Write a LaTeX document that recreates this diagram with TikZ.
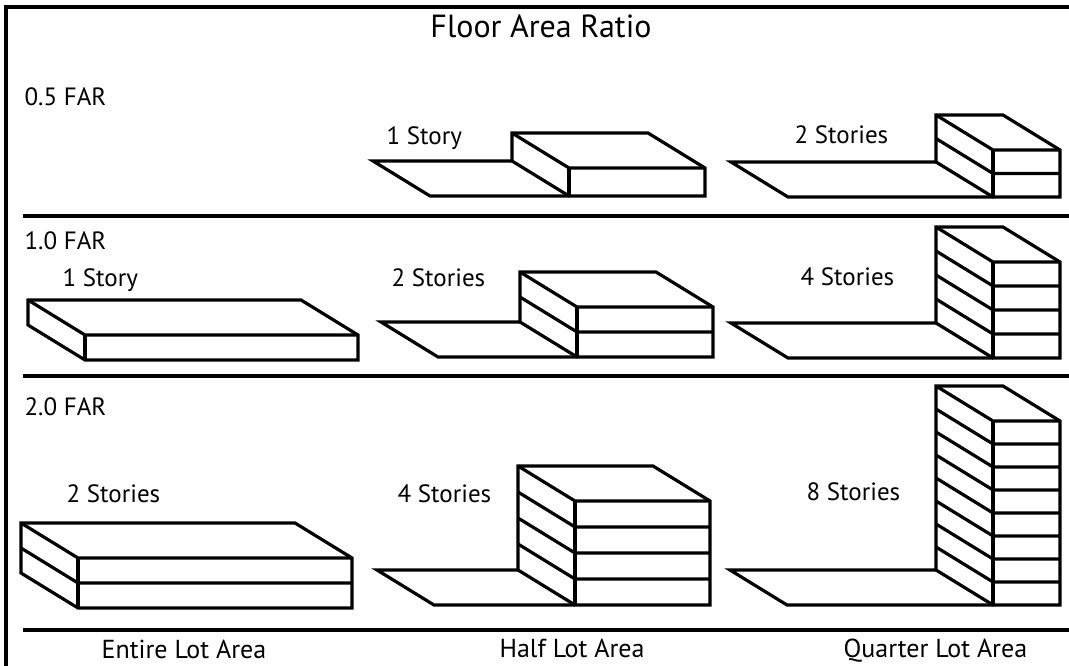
\documentclass[tikz,border=0pt]{standalone}
\usepackage{fontspec}
\setmainfont{PT Sans}
\begin{document}
\begin{tikzpicture}[x=1pt,y=-1pt,line width=3.2pt,
  lbl/.style={font=\fontsize{25}{29}\selectfont,anchor=base west,inner sep=0pt}]
\useasboundingbox (0,0) rectangle (1069,666);
% frame and separators
\draw (6,666) -- (6,7) -- (1069,7);
\foreach \y in {216,376,630}
\draw (23,\y) -- (1069,\y);
% texts
\node[font=\fontsize{32}{37}\selectfont,anchor=base,inner sep=0pt] (title) at (541,38) {Floor Area Ratio};
\node[lbl] (far05) at (23,106) {0.5 FAR};
\node[lbl] (far10) at (23,249) {1.0 FAR};
\node[lbl] (far20) at (23,415) {2.0 FAR};
\node[lbl] (halfa) at (385,145) {1 Story};
\node[lbl] (quarta) at (793,144) {2 Stories};
\node[lbl] (entireb) at (61,286) {1 Story};
\node[lbl] (halfb) at (390,286) {2 Stories};
\node[lbl] (quartb) at (799,285) {4 Stories};
\node[lbl] (entirec) at (65,502) {2 Stories};
\node[lbl] (halfc) at (396,502) {4 Stories};
\node[lbl] (quartc) at (805,500) {8 Stories};
\node[lbl,font=\fontsize{26}{30}\selectfont] (entire) at (100,658) {Entire Lot Area};
\node[lbl,font=\fontsize{26}{30}\selectfont] (half) at (498,657) {Half Lot Area};
\node[lbl,font=\fontsize{26}{30}\selectfont] (quart) at (842,657) {Quarter Lot Area};
% open lots
\foreach \x/\y/\l in {569/196/139,993/197/205,577/357/139,993/358/205,575/605/141,993/605/206}
\draw (\x,\y) -- ++(-\l,0) -- ++(-57,-35) -- ++(\l,0);
% buildings
\foreach \x/\y/\w/\n/\h in {569/196/136/1/28,993/197/67/2/23.5,85/360/273/1/25,577/357/136/2/25,993/358/67/4/24,78/608/274/2/25,575/605/135/4/26,993/605/67/8/23}{
\draw (\x+\w,\y-\n*\h) -- (\x+\w,\y) -- (\x,\y) -- (\x-57,\y-35) -- (\x-57,\y-35-\n*\h) -- (\x+\w-57,\y-35-\n*\h) -- cycle;
\draw (\x,\y) -- (\x,\y-\n*\h);
\foreach \i in {1,...,\n}
\draw (\x-57,\y-35-\i*\h) -- (\x,\y-\i*\h) -- (\x+\w,\y-\i*\h);
}
\end{tikzpicture}
\end{document}
